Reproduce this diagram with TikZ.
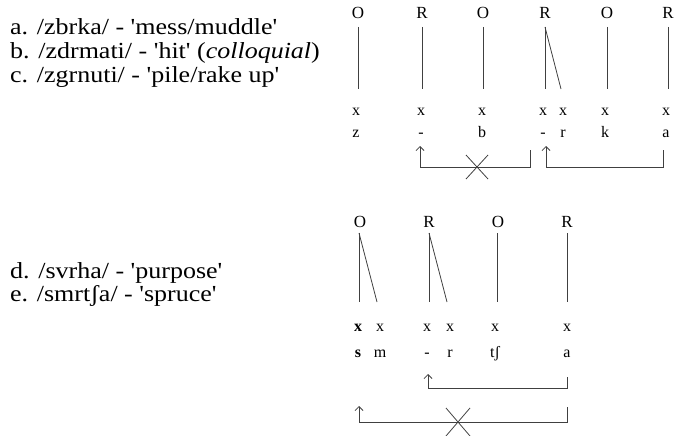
\documentclass[tikz,border=0pt]{standalone}
\usepackage{fontspec}
\setmainfont{Liberation Serif}
\usetikzlibrary{arrows.meta}
\newcommand{\qq}{\textquotesingle}
\newcommand{\wide}[1]{\scalebox{1.13}[1]{#1}}
\tikzset{
  txt/.style={anchor=base west, inner sep=0pt, font=\fontsize{23}{27}\selectfont},
  lab/.style={inner sep=0pt, font=\fontsize{17}{20}\selectfont},
  seg/.style={inner sep=0pt, font=\fontsize{16}{19}\selectfont},
  assoc/.style={line width=0.8pt, black!75},
  brk/.style={line width=0.8pt, black!75, -{Straight Barb[length=4pt,width=8pt]}},
  crs/.style={line width=0.8pt, black!75}
}
\begin{document}
\begin{tikzpicture}[x=1pt,y=-1pt]
\useasboundingbox (0,0) rectangle (675,436);
% left texts
\node[txt] (ta) at (10,35) {\wide{a. /zbrka/ - \qq mess/muddle\qq}};
\node[txt] (tb) at (10,59) {\wide{b. /zdrmati/ - \qq hit\qq{} (\textit{colloquial})}};
\node[txt] (tc) at (10,83) {\wide{c. /zgrnuti/ - \qq pile/rake up\qq}};
\node[txt] (td) at (10,278) {\wide{d. /svrha/ - \qq purpose\qq}};
\node[txt] (te) at (10,301) {\wide{e. /smrtʃa/ - \qq spruce\qq}};
% ---------- top diagram ----------
\foreach \n/\l/\x in {1/O/358,2/R/422,3/O/483,4/R/545,5/O/607,6/R/668}{
  \node[lab] (A\n) at (\x,13) {\l};
  \coordinate (AB\n) at (\x,89);
}
\coordinate (AD4) at (561,89);
\foreach \n in {1,...,6}{ \draw[assoc] (A\n.south |- 0,27) -- (AB\n); }
\draw[assoc] (A4.south |- 0,27) -- (AD4);
\foreach \n/\x/\s in {1/356/z,2/421/-,3/482/b,4/543/-,5/563/r,6/605/k,7/666/a}{
  \node[seg] (X\n) at (\x,112) {x};
  \node[seg,anchor=base] (S\n) at (\x,137) {\s};
}
\coordinate (P1) at (530,150);
\coordinate (Q1) at (530,167);
\coordinate (R1) at (420,167);
\coordinate (T1) at (420,146);
\draw[brk] (P1) -- (Q1) -- (R1) -- (T1);
\coordinate (P2) at (663,150);
\coordinate (Q2) at (663,167);
\coordinate (R2) at (546,167);
\coordinate (T2) at (546,146);
\draw[brk] (P2) -- (Q2) -- (R2) -- (T2);
\coordinate (C1a) at (466,155); \coordinate (C1b) at (488,179);
\coordinate (C1c) at (488,155); \coordinate (C1d) at (466,179);
\draw[crs] (C1a) -- (C1b) (C1c) -- (C1d);
% ---------- bottom diagram ----------
\foreach \n/\l/\x in {1/O/360,2/R/429,3/O/498,4/R/567}{
  \node[lab] (B\n) at (\x,222) {\l};
}
\coordinate (BB1) at (359,302); \coordinate (BD1) at (377,302);
\coordinate (BB2) at (429,302); \coordinate (BD2) at (447,302);
\coordinate (BB3) at (497,302);
\coordinate (BB4) at (567,302);
\draw[assoc] (359,233) -- (BB1);
\draw[assoc] (359,233) -- (BD1);
\draw[assoc] (429,233) -- (BB2);
\draw[assoc] (429,233) -- (BD2);
\draw[assoc] (497,233) -- (BB3);
\draw[assoc] (567,233) -- (BB4);
\foreach \n/\x/\s in {2/380/m,3/427/-,4/450/r,5/495/tʃ,6/567/a}{
  \node[seg] (Y\n) at (\x,328) {x};
  \node[seg,anchor=base] (U\n) at (\x,357) {\s};
}
\node[seg] (Y1) at (358,328) {\textbf{x}};
\node[seg,anchor=base] (U1) at (358,357) {\textbf{s}};
\coordinate (P3) at (567,377);
\coordinate (Q3) at (567,388);
\coordinate (R3) at (428,388);
\coordinate (T3) at (428,374);
\draw[brk] (P3) -- (Q3) -- (R3) -- (T3);
\coordinate (P4) at (567,407);
\coordinate (Q4) at (567,422);
\coordinate (R4) at (359,422);
\coordinate (T4) at (359,406);
\draw[brk] (P4) -- (Q4) -- (R4) -- (T4);
\coordinate (C2a) at (446,408); \coordinate (C2b) at (470,436);
\coordinate (C2c) at (470,408); \coordinate (C2d) at (446,436);
\draw[crs] (C2a) -- (C2b) (C2c) -- (C2d);
\end{tikzpicture}
\end{document}
